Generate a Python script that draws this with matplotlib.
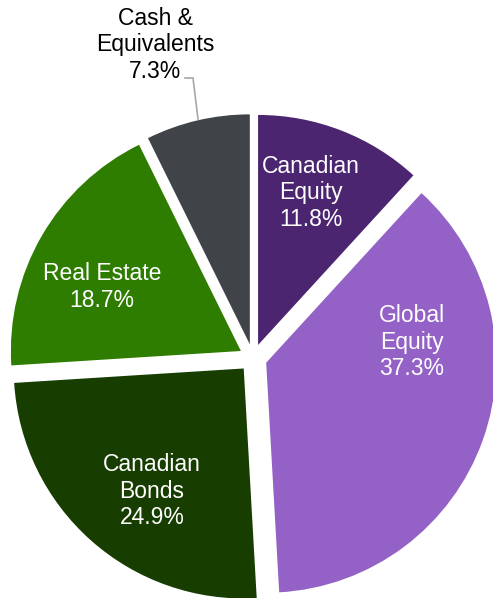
import matplotlib
matplotlib.use('Agg')
import matplotlib.pyplot as plt

# portfolio asset mix, clockwise from 12 o'clock
categories = ['Canadian\nEquity', 'Global\nEquity', 'Canadian\nBonds', 'Real Estate', 'Cash &\nEquivalents']
weights = [11.8, 37.3, 24.9, 18.7, 7.3]
colors = ['#4B2570', '#9461C6', '#173D00', '#2E7D00', '#404448']

W, H = 493, 598


def main():
    plt.rcParams['font.family'] = ['Liberation Sans', 'DejaVu Sans']

    fig = plt.figure(figsize=(W / 100, H / 100), dpi=100)
    ax = fig.add_axes([0, 0, 1, 1])
    ax.axis('off')

    cx, cy, r = 253, H - 358, 230
    # explode is in data units here since the radius is in pixels
    ax.pie(weights, colors=colors, startangle=90, counterclock=False,
           center=(cx, cy), radius=r, explode=[14] * len(weights),
           wedgeprops={'linewidth': 0})
    ax.set_xlim(0, W)
    ax.set_ylim(0, H)
    ax.set_aspect('equal')

    # label anchors (pixel positions from the top-left)
    spots = [(311, 193), (412, 342), (152, 491), (102, 287), (155, 45)]
    for i, (name, val, (x, y)) in enumerate(zip(categories, weights, spots)):
        tc = 'black' if i == 4 else 'white'
        ax.text(x, H - y, f"{name}\n{val:.1f}%", color=tc, fontsize=16.5,
                ha='center', va='center', linespacing=1.2)

    # leader line for the small cash slice
    ax.plot([185, 193, 198], [H - 78, H - 78, H - 119], color='#A6A6A6', lw=1.2)

    fig.savefig('out.png', dpi=100)


if __name__ == "__main__":
    main()
